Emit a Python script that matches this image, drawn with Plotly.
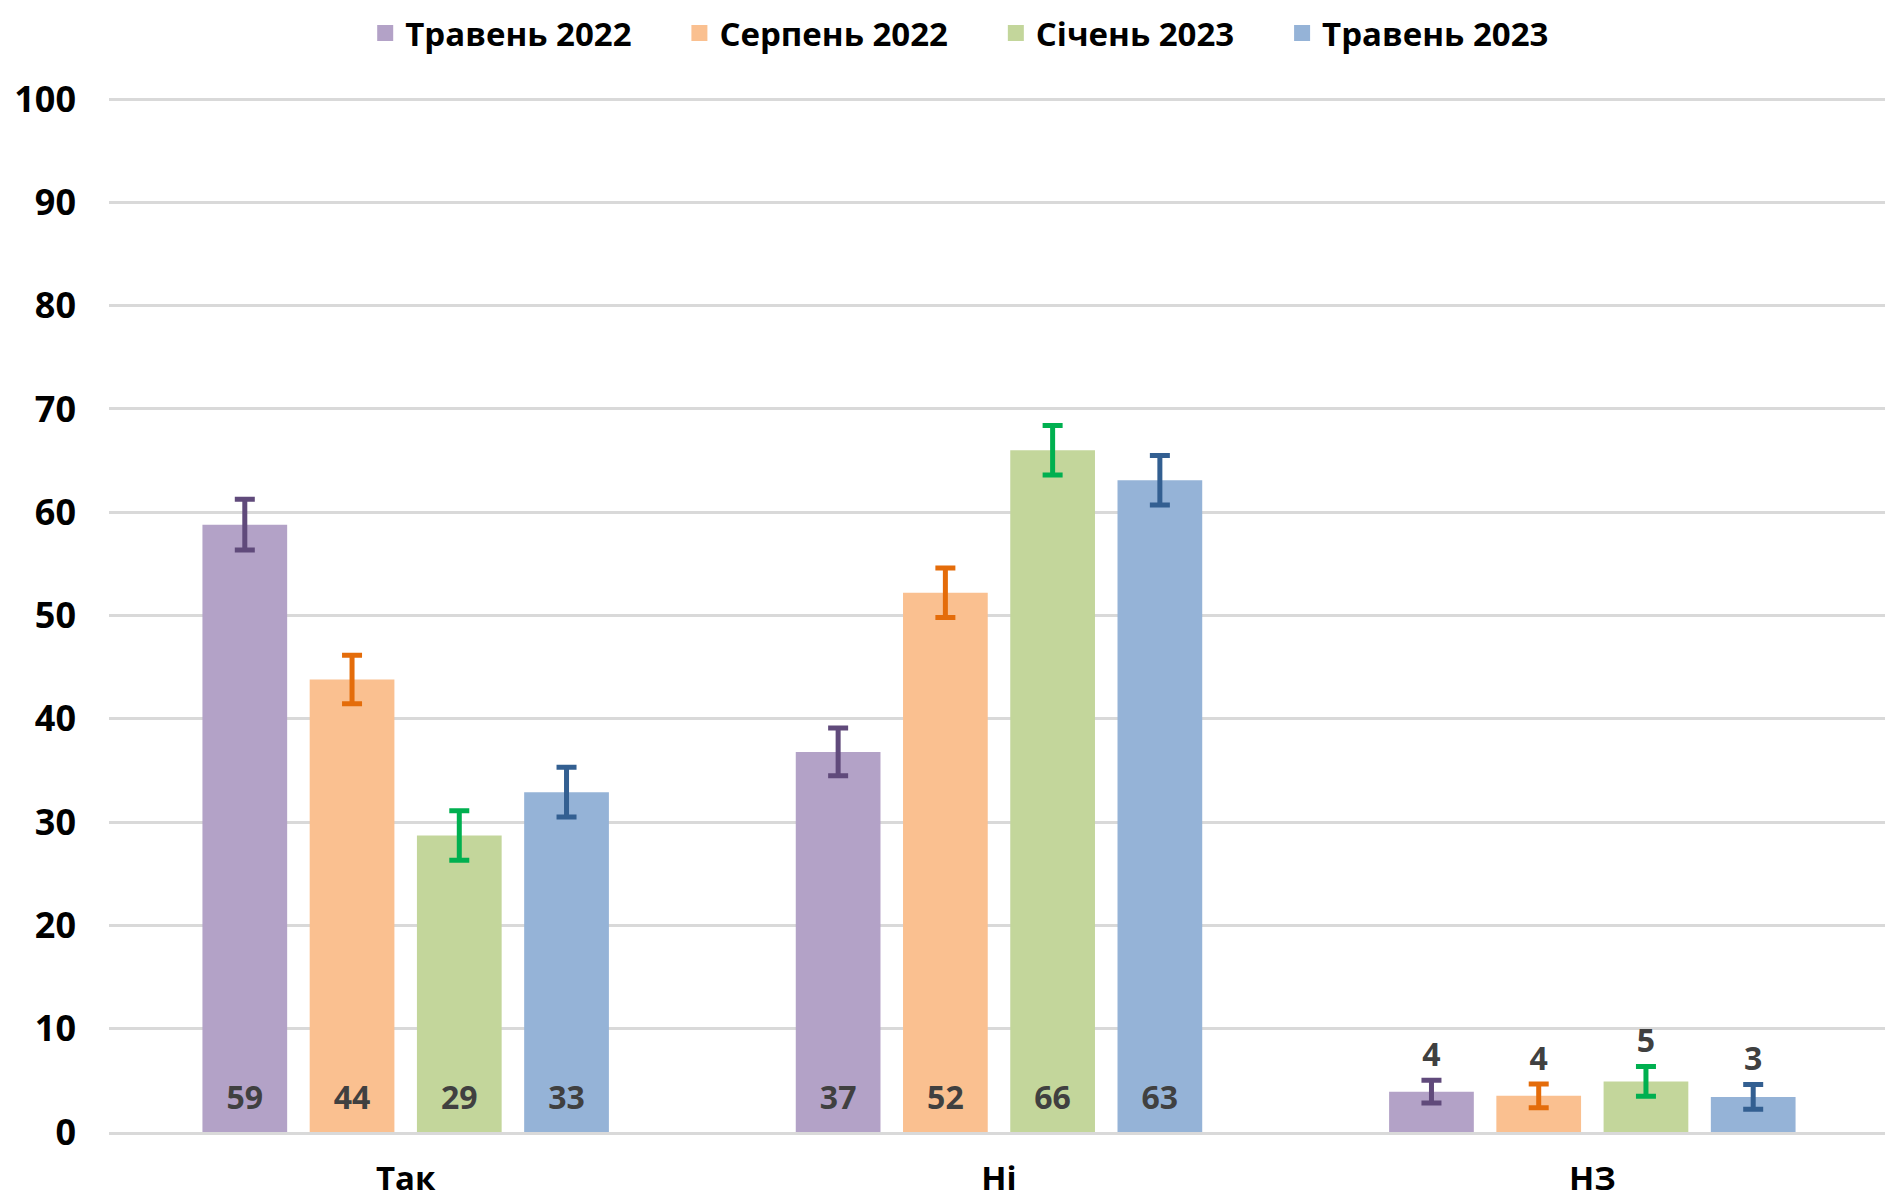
import plotly.graph_objects as go

categories = ["Так", "Ні", "НЗ"]
series_names = ["Травень 2022", "Серпень 2022", "Січень 2023", "Травень 2023"]

may_2022 = [58.8, 36.8, 3.9]
aug_2022 = [43.8, 52.2, 3.5]
jan_2023 = [28.7, 66.0, 4.9]
may_2023 = [32.9, 63.1, 3.4]

err_may_2022 = [2.45, 2.3, 1.1]
err_aug_2022 = [2.35, 2.4, 1.15]
err_jan_2023 = [2.4, 2.4, 1.45]
err_may_2023 = [2.4, 2.4, 1.2]

y_ticks = [0, 10, 20, 30, 40, 50, 60, 70, 80, 90, 100]

values = [may_2022, aug_2022, jan_2023, may_2023]
errors = [err_may_2022, err_aug_2022, err_jan_2023, err_may_2023]
bar_colors = ["#B3A2C7", "#FAC090", "#C3D69B", "#95B3D7"]
err_colors = ["#604A7B", "#E46C0A", "#00B050", "#335F91"]

FONT = "Open Sans"
label_font = dict(family=FONT, size=32, color="#404040", weight="bold")

fig = go.Figure()

for i, name in enumerate(series_names):
    fig.add_trace(go.Bar(
        x=categories, y=values[i], name=name, showlegend=False,
        marker=dict(color=bar_colors[i], line=dict(width=0)),
        error_y=dict(type="data", array=errors[i], visible=True,
                     color=err_colors[i], thickness=5, width=10),
        offsetgroup=str(i), hoverinfo="skip",
    ))

# value labels: at the bar base for Так / Ні, above the error bar for НЗ
for i, name in enumerate(series_names):
    small = [c == "НЗ" for c in categories]
    label_y = [v + e if s else 0 for v, e, s in zip(values[i], errors[i], small)]
    fig.add_trace(go.Scatter(
        x=categories, y=label_y, mode="markers+text",
        text=[f"{v:.0f}" for v in values[i]],
        textposition="top center", textfont=label_font,
        marker=dict(size=[8 if s else 22 for s in small], opacity=0),
        offsetgroup=str(i), showlegend=False, hoverinfo="skip",
    ))

# legend entries with bigger square swatches (nbsp padding widens the gaps)
for i, name in enumerate(series_names):
    fig.add_trace(go.Scatter(
        x=[None], y=[None], mode="markers", name=name + "\u00a0" * 5,
        marker=dict(symbol="square", size=16, color=bar_colors[i]),
        offsetgroup=str(i), hoverinfo="skip",
    ))

fig.update_layout(
    width=1885, height=1193,
    barmode="group", scattermode="group",
    bargap=0.277, bargroupgap=0.21,
    plot_bgcolor="white", paper_bgcolor="white",
    margin=dict(l=101, r=4, t=89, b=69),
    font=dict(family=FONT, color="black"),
    legend=dict(orientation="h", x=0.49, xanchor="center",
                y=0.979, yanchor="middle", yref="container",
                font=dict(family=FONT, size=33, weight="bold"),
                itemwidth=30, tracegroupgap=0),
)
fig.update_yaxes(
    range=[0, 100.2], tickvals=y_ticks, showgrid=True,
    gridcolor="#D9D9D9", gridwidth=2.5, zeroline=False,
    showline=False, ticks="", ticklabelstandoff=32, automargin=False,
    tickfont=dict(family=FONT, size=36, weight="bold", color="black"),
)
fig.update_xaxes(
    showline=True, linecolor="#D9D9D9", linewidth=2.5, ticks="",
    tickfont=dict(family=FONT, size=33, weight="bold", color="black"),
    ticklabelstandoff=16, automargin=False,
)

fig.write_html("out.html")
